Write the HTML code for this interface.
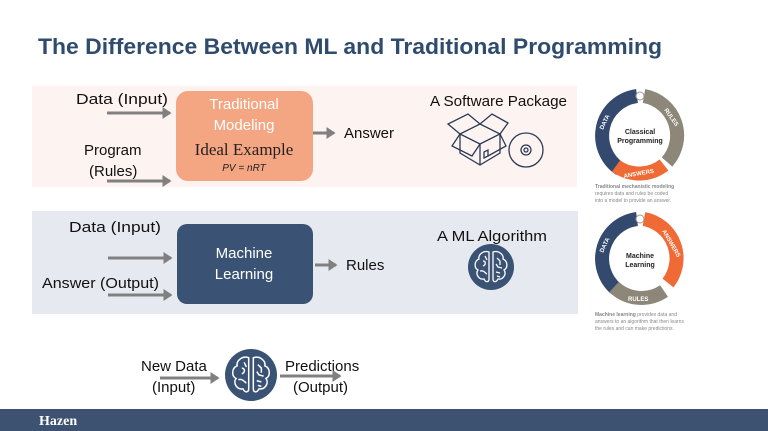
<!DOCTYPE html>
<html><head><meta charset="utf-8"><style>
body{margin:0;width:768px;height:431px;overflow:hidden;background:#fff;font-family:"Liberation Sans",sans-serif}
svg{display:block}
</style></head><body>
<svg width="768" height="431" viewBox="0 0 768 431" xmlns="http://www.w3.org/2000/svg">
<defs>
<marker id="ah" markerWidth="4" markerHeight="4" refX="2.5" refY="2" orient="auto" markerUnits="strokeWidth"><path d="M0,0 L3,2 L0,4 z" fill="#808080"/></marker>
<g id="brain" fill="none" stroke="#fff" stroke-width="1.3">
<path d="M-2,-15 C-8,-17 -13,-12 -12,-8 C-17,-6 -17,1 -13,3 C-16,7 -12,13 -7,12 C-5,16 -2,15 -2,12 Z"/>
<path d="M2,-15 C8,-17 13,-12 12,-8 C17,-6 17,1 13,3 C16,7 12,13 7,12 C5,16 2,15 2,12 Z"/>
<path d="M-8,-6 C-5,-6 -5,-2 -8,-1 M-11,4 C-7,3 -6,6 -4,7 M-6,-11 L-4,-7"/>
<path d="M6,-9 L9,-6 L9,-2 M5,-3 L7,0 L11,1 M5,5 L9,6 M6,9 L9,10"/>
</g>
</defs>
<text x="38" y="54" font-size="22" font-weight="bold" fill="#2f4b6e" textLength="624" lengthAdjust="spacingAndGlyphs">The Difference Between ML and Traditional Programming</text>

<rect x="32" y="86" width="545" height="101" fill="#fdf3f1"/>
<rect x="32" y="211" width="546" height="103" fill="#e6eaf0"/>

<rect x="176" y="91" width="137" height="90" rx="12" fill="#f4a582"/>
<text x="244" y="109" font-size="15" fill="#fff" text-anchor="middle">Traditional</text>
<text x="244" y="130" font-size="15" fill="#fff" text-anchor="middle">Modeling</text>
<text x="244" y="155" font-size="17" fill="#222" text-anchor="middle" font-family="Liberation Serif,serif">Ideal Example</text>
<text x="244" y="171" font-size="10" fill="#222" text-anchor="middle" font-style="italic">PV = nRT</text>

<rect x="177" y="224" width="136" height="80" rx="10" fill="#3a5273"/>
<text x="244" y="258" font-size="15" fill="#fff" text-anchor="middle">Machine</text>
<text x="244" y="279" font-size="15" fill="#fff" text-anchor="middle">Learning</text>

<g font-size="15" fill="#111">
<text x="76" y="104" textLength="92" lengthAdjust="spacingAndGlyphs">Data (Input)</text>
<text x="84" y="155">Program</text>
<text x="89" y="176">(Rules)</text>
<text x="344" y="138">Answer</text>
<text x="69" y="232" textLength="92" lengthAdjust="spacingAndGlyphs">Data (Input)</text>
<text x="42" y="288" textLength="117" lengthAdjust="spacingAndGlyphs">Answer (Output)</text>
<text x="346" y="270">Rules</text>
<text x="430" y="106" textLength="137" lengthAdjust="spacingAndGlyphs">A Software Package</text>
<text x="437" y="241" textLength="110" lengthAdjust="spacingAndGlyphs">A ML Algorithm</text>
<text x="141" y="371">New Data</text>
<text x="152" y="392">(Input)</text>
<text x="285" y="371">Predictions</text>
<text x="293" y="392">(Output)</text>
</g>

<g stroke="#808080" stroke-width="3" marker-end="url(#ah)">
<line x1="107" y1="113" x2="170" y2="113"/>
<line x1="107" y1="181" x2="170" y2="181"/>
<line x1="313" y1="133" x2="334" y2="133"/>
<line x1="108" y1="258" x2="171" y2="258"/>
<line x1="108" y1="295" x2="171" y2="295"/>
<line x1="315" y1="265" x2="336" y2="265"/>
<line x1="160" y1="378" x2="218" y2="378"/>
<line x1="280" y1="376" x2="340" y2="376"/>
</g>

<g fill="none" stroke="#2b3a55" stroke-width="1.3">
<path d="M460,134 L480,124 L500,134 L480,144 Z"/>
<path d="M460,134 L448,124 L468,114 L480,124 M480,124 L492,114 L508,123 L500,134"/>
<path d="M460,134 L460,153 L480,165 L500,153 L500,134 M480,144 L480,165"/>
<path d="M460,134 L452,146 L472,156 L480,144 M500,134 L506,146 L488,156"/>
<path d="M484,158 L488,156 L488,150 L484,152 Z"/>
<circle cx="526" cy="150" r="17"/>
<circle cx="526" cy="150" r="5"/>
<circle cx="526" cy="150" r="2"/>
</g>

<circle cx="491" cy="267" r="23" fill="#3a5273"/>
<use href="#brain" x="491" y="267"/>
<circle cx="251" cy="375" r="26" fill="#3a5273"/>
<g transform="translate(251,375) scale(1.15)"><use href="#brain"/></g>

<g fill="none" stroke-width="14">
<path d="M620,169 A40,40 0 0 1 637,96" stroke="#34496e"/>
<path d="M644,96 A40,40 0 0 1 667,162" stroke="#8c8778"/>
<path d="M664,165 A40,40 0 0 1 616,166" stroke="#ef6a35"/>
</g>
<circle cx="640" cy="96" r="4" fill="#fff" stroke="#999"/>
<g font-size="6" fill="#fff" font-weight="bold">
<text x="603" y="130" transform="rotate(-65 603 130)">DATA</text>
<text x="664" y="110" transform="rotate(55 664 110)">RULES</text>
<text x="624" y="178" transform="rotate(-10 624 178)">ANSWERS</text>
</g>
<text x="640" y="134" font-size="7" font-weight="bold" fill="#222" text-anchor="middle">Classical</text>
<text x="640" y="143" font-size="7" font-weight="bold" fill="#222" text-anchor="middle">Programming</text>
<g font-size="5" fill="#888">
<text x="595" y="188" font-weight="bold">Traditional mechanistic modeling</text>
<text x="595" y="195">requires data and rules be coded</text>
<text x="595" y="202">into a model to provide an answer.</text>
</g>

<g fill="none" stroke-width="14">
<path d="M616,289 A40,40 0 0 1 637,219" stroke="#34496e"/>
<path d="M644,219 A40,40 0 0 1 668,283" stroke="#ef6a35"/>
<path d="M664,291 A40,40 0 0 1 614,287" stroke="#8c8778"/>
</g>
<circle cx="640" cy="219" r="4" fill="#fff" stroke="#999"/>
<g font-size="6" fill="#fff" font-weight="bold">
<text x="603" y="253" transform="rotate(-65 603 253)">DATA</text>
<text x="662" y="231" transform="rotate(60 662 231)">ANSWERS</text>
<text x="628" y="301">RULES</text>
</g>
<text x="640" y="258" font-size="7" font-weight="bold" fill="#222" text-anchor="middle">Machine</text>
<text x="640" y="267" font-size="7" font-weight="bold" fill="#222" text-anchor="middle">Learning</text>
<g font-size="5" fill="#888">
<text x="595" y="316"><tspan font-weight="bold">Machine learning</tspan> provides data and</text>
<text x="595" y="323">answers to an algorithm that then learns</text>
<text x="595" y="330">the rules and can make predictions.</text>
</g>

<rect x="0" y="409" width="768" height="22" fill="#3d5170"/>
<text x="39" y="425" font-size="14" font-weight="bold" fill="#fff" font-family="Liberation Serif,serif">Hazen</text>
</svg>
</body></html>
